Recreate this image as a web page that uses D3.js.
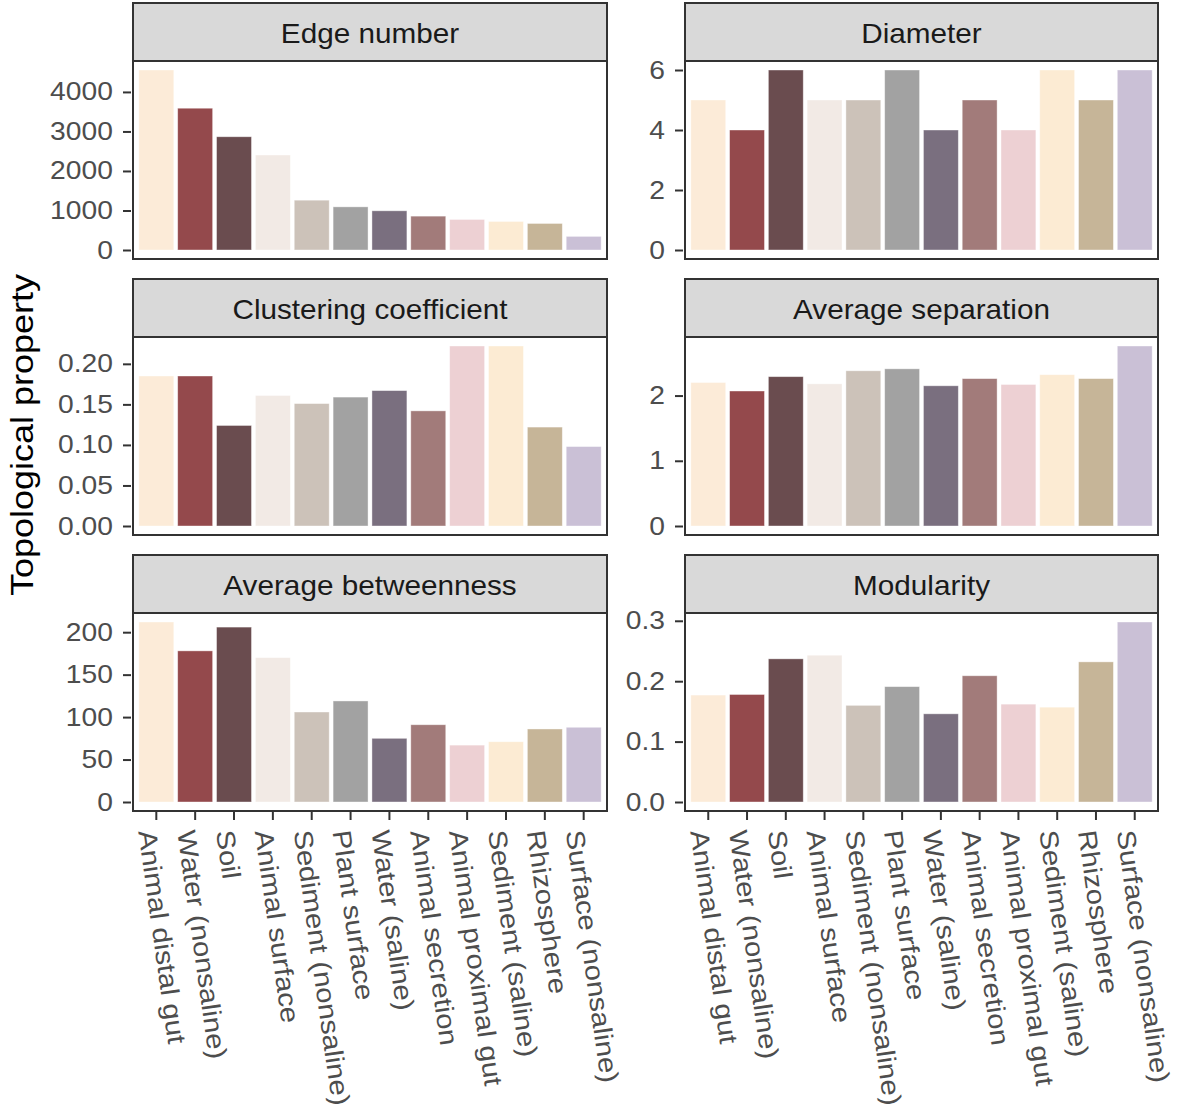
<!DOCTYPE html>
<html>
<head>
<meta charset="utf-8">
<script src="https://cdn.jsdelivr.net/npm/d3@7"></script>
<style>
  body { margin: 0; background: #fff; }
  text { font-family: "Liberation Sans", Arial, Helvetica, sans-serif; }
</style>
</head>
<body>
<div id="chart"></div>
<script>
// Network topological properties by habitat, faceted bar chart

var categories = ["Animal distal gut", "Water (nonsaline)", "Soil", "Animal surface",
    "Sediment (nonsaline)", "Plant surface", "Water (saline)", "Animal secretion",
    "Animal proximal gut", "Sediment (saline)", "Rhizosphere", "Surface (nonsaline)"];

var barColors = ["#FCEBD8", "#94494C", "#6A4C4F", "#F2EAE5", "#CCC2B9", "#A2A2A2",
    "#7A6F7F", "#A27B7A", "#EDD0D3", "#FCEBD3", "#C6B598", "#CAC0D6"];

var edgeNumber  = [4555, 3588, 2866, 2403, 1261, 1092, 992, 857, 773, 723, 672, 345];
var diameter    = [5, 4, 6, 5, 5, 6, 4, 5, 4, 6, 5, 6];
var clustering  = [0.185, 0.185, 0.124, 0.161, 0.151, 0.159, 0.167, 0.142, 0.222, 0.222, 0.122, 0.098];
var separation  = [2.20, 2.07, 2.29, 2.18, 2.38, 2.41, 2.15, 2.26, 2.17, 2.32, 2.26, 2.76];
var betweenness = [212, 178, 206, 170, 106, 119, 75, 91, 67, 71, 86, 88];
var modularity  = [0.177, 0.178, 0.237, 0.243, 0.160, 0.191, 0.146, 0.209, 0.162, 0.157, 0.232, 0.298];

var panelTitles = ["Edge number", "Diameter", "Clustering coefficient",
    "Average separation", "Average betweenness", "Modularity"];
var panelValues = [edgeNumber, diameter, clustering, separation, betweenness, modularity];
var panelTicks = [
    [0, 1000, 2000, 3000, 4000],
    [0, 2, 4, 6],
    [0, 0.05, 0.10, 0.15, 0.20],
    [0, 1, 2],
    [0, 50, 100, 150, 200],
    [0, 0.1, 0.2, 0.3]
];
var panelFormats = ["d", "d", ".2f", "d", "d", ".1f"];

// Layout
var W = 1178, H = 1109;
var colX = [[133, 607], [685, 1158]];
var stripTop = [3, 279, 555];
var stripH = 58, panelH = 198;
var border = "#333333";
// The reference font is wider than Liberation Sans, stretch text along its direction
var stretch = 1.13;

var svg = d3.select("#chart").append("svg")
    .attr("width", W)
    .attr("height", H);

var xScale = d3.scaleBand()
    .domain(categories)
    .paddingInner(0.1)
    .paddingOuter(0.15);

for (var p = 0; p < 6; p++) {
    var col = p % 2, row = Math.floor(p / 2);
    var x0 = colX[col][0], x1 = colX[col][1];
    var sTop = stripTop[row];
    var pTop = sTop + stripH, pBot = pTop + panelH;
    var vals = panelValues[p];
    var vmax = d3.max(vals);

    xScale.range([x0, x1]);
    var yScale = d3.scaleLinear()
        .domain([-0.05 * vmax, 1.05 * vmax])
        .range([pBot, pTop]);

    var g = svg.append("g");

    // panel background
    g.append("rect")
        .attr("x", x0).attr("y", pTop)
        .attr("width", x1 - x0).attr("height", panelH)
        .attr("fill", "#fff");

    // bars
    g.selectAll("rect.bar")
        .data(vals)
        .enter().append("rect")
        .attr("class", "bar")
        .attr("x", function (d, i) { return xScale(categories[i]); })
        .attr("width", xScale.bandwidth())
        .attr("y", function (d) { return yScale(d); })
        .attr("height", function (d) { return yScale(0) - yScale(d); })
        .attr("fill", function (d, i) { return barColors[i]; })
        .attr("stroke", "#ffffff")
        .attr("stroke-opacity", 0.5)
        .attr("stroke-width", 0.8);

    // panel border
    g.append("rect")
        .attr("x", x0).attr("y", pTop)
        .attr("width", x1 - x0).attr("height", panelH)
        .attr("fill", "none")
        .attr("stroke", border)
        .attr("stroke-width", 2);

    // strip
    g.append("rect")
        .attr("x", x0).attr("y", sTop)
        .attr("width", x1 - x0).attr("height", stripH)
        .attr("fill", "#D9D9D9")
        .attr("stroke", border)
        .attr("stroke-width", 2);
    g.append("text")
        .attr("transform", "translate(" + ((x0 + x1) / 2) + "," + (sTop + stripH / 2 + 1) + ") scale(1.1,1)")
        .attr("text-anchor", "middle")
        .attr("dominant-baseline", "central")
        .attr("font-size", "27px")
        .attr("fill", "#1A1A1A")
        .text(panelTitles[p]);

    // y axis
    var yAxis = d3.axisLeft(yScale)
        .tickValues(panelTicks[p])
        .tickFormat(d3.format(panelFormats[p]))
        .tickSize(8)
        .tickSizeOuter(0)
        .tickPadding(8);
    var ya = g.append("g")
        .attr("transform", "translate(" + (x0 - 2) + ",0)")
        .call(yAxis);
    ya.select(".domain").remove();
    ya.selectAll(".tick line").attr("stroke", border).attr("stroke-width", 2);
    ya.selectAll(".tick text")
        .attr("transform", "scale(" + stretch + ",1)")
        .attr("font-size", "25px")
        .attr("fill", "#4D4D4D")
        .style("font-family", "'Liberation Sans', Arial, Helvetica, sans-serif");

    // x axis only for the bottom row
    if (row == 2) {
        var xAxis = d3.axisBottom(xScale)
            .tickSize(8)
            .tickSizeOuter(0)
            .tickFormat("");
        var xa = g.append("g")
            .attr("transform", "translate(0," + (pBot + 1) + ")")
            .call(xAxis);
        xa.select(".domain").remove();
        xa.selectAll(".tick line").attr("stroke", border).attr("stroke-width", 2);

        g.selectAll("text.xlab")
            .data(categories)
            .enter().append("text")
            .attr("class", "xlab")
            .attr("transform", function (d) {
                return "translate(" + (xScale(d) + xScale.bandwidth() / 2) + "," + (pBot + 18) +
                    ") rotate(82) scale(" + stretch + ",1)";
            })
            .attr("dy", "0.7em")
            .attr("text-anchor", "start")
            .attr("font-size", "26px")
            .attr("fill", "#4D4D4D")
            .text(function (d) { return d; });
    }
}

// shared y axis title
svg.append("text")
    .attr("transform", "translate(22,435) rotate(-90) scale(1.16,1)")
    .attr("text-anchor", "middle")
    .attr("dominant-baseline", "central")
    .attr("font-size", "31px")
    .attr("fill", "#000")
    .text("Topological property");
</script>
</body>
</html>
